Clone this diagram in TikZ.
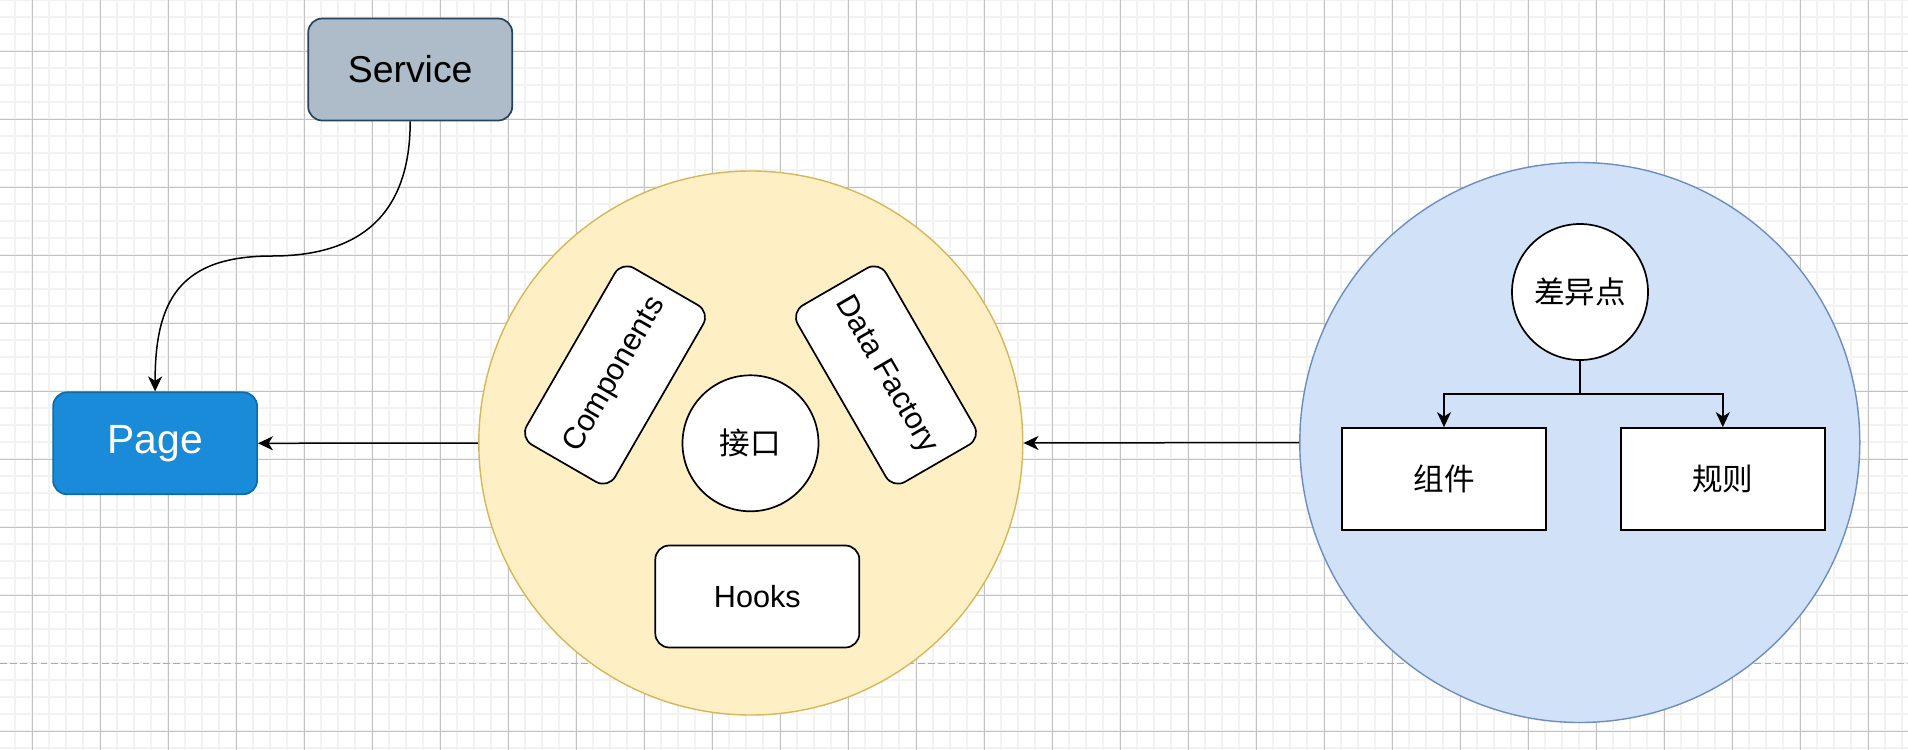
\documentclass[tikz,border=0pt]{standalone}
\usepackage{fontspec}
\setmainfont{Liberation Sans}
\newfontfamily\cjk{Noto Sans CJK SC}
\usetikzlibrary{positioning,arrows.meta}

\definecolor{gridminor}{HTML}{F2F2F2}
\definecolor{gridmajor}{HTML}{C2C2C2}
\definecolor{pagebreak}{HTML}{ABABAB}
\definecolor{servicefill}{HTML}{ADBCC8}
\definecolor{serviceline}{HTML}{23445D}
\definecolor{pagefill}{HTML}{1A8BD8}
\definecolor{pageline}{HTML}{0E6AA8}
\definecolor{corefill}{HTML}{FFEFC4}
\definecolor{coreline}{HTML}{D6B656}
\definecolor{difffill}{HTML}{D1E1F8}
\definecolor{diffline}{HTML}{6C8EBF}

\begin{document}
\begin{tikzpicture}[x=0.5pt,y=-0.5pt,
	box/.style={draw,rounded corners=7pt,minimum width=102pt,minimum height=51pt,line width=0.85pt,fill=white,font=\fontsize{15.3}{18}\selectfont},
	sqbox/.style={box,rounded corners=0pt},
	circ/.style={draw,circle,fill=white,minimum size=68pt,inner sep=0pt,line width=0.85pt,font=\fontsize{15.3}{18}\selectfont},
	ring/.style={circle,inner sep=0pt,line width=0.7pt},
	flow/.style={-{Stealth[length=7.5pt,width=7pt,inset=2.2pt]},line width=0.75pt}]
\def\xmax{1908}
\def\ymax{750}
\useasboundingbox (0,0) rectangle (\xmax,\ymax);

\foreach \i in {0,...,111}
	\draw[color=gridminor,line width=1pt]({15.3+17*\i},0)--({15.3+17*\i},\ymax);
\foreach \j in {0,...,44}
	\draw[color=gridminor,line width=1pt](0,{0.3+17*\j})--(\xmax,{0.3+17*\j});
\foreach \i in {0,...,27}
	\draw[color=gridmajor,line width=0.5pt]({32.3+68*\i},0)--({32.3+68*\i},\ymax);
\foreach \j in {0,...,8,10}
	\draw[color=gridmajor,line width=0.5pt](0,{51.3+68*\j})--(\xmax,{51.3+68*\j});
\draw[color=pagebreak,line width=0.6pt,dash pattern=on 3.3pt off 1.8pt](0,663.3)--(\xmax,663.3);

\node[ring,fill=corefill,draw=coreline,minimum size=272pt] (core) at (750.8,443) {};
\node[ring,fill=difffill,draw=diffline,minimum size=280pt] (diffs) at (1579.8,442.5) {};

\node[box,fill=servicefill,draw=serviceline,font=\fontsize{18.7}{22}\selectfont] (service) at (410.2,69.5) {Service};
\node[box,fill=pagefill,draw=pageline,text=white,font=\fontsize{20.4}{24}\selectfont] (page) at (155.1,443.3) {Page};

\node[box,rotate=60] (components) at (615,375) {Components};
\node[box,rotate=-60] (datafactory) at (886,375) {Data Factory};
\node[circ] (port) at (750.5,443.3) {\cjk 接口};
\node[box] (hooks) at (757.3,596.5) {Hooks};

\node[circ] (diff) at (1580,292) {\cjk 差异点};
\node[sqbox] (zujian) at (1444,479) {\cjk 组件};
\node[sqbox] (guize) at (1722.8,479) {\cjk 规则};

\coordinate (bend) at (272,256);
\coordinate (fork) at (1580,394.2);

\draw[flow] (service.south) .. controls (410.2,205) and (370,256) .. (bend) .. controls (180,256) and (155.1,300) .. (page.north);
\draw[flow] (core.west) -- (page.east);
\draw[flow] (diffs.west) -- (core.east);
\draw[flow] (diff.south) -- (fork) -| (zujian.north);
\draw[flow] (diff.south) -- (fork) -| (guize.north);

\end{tikzpicture}
\end{document}
